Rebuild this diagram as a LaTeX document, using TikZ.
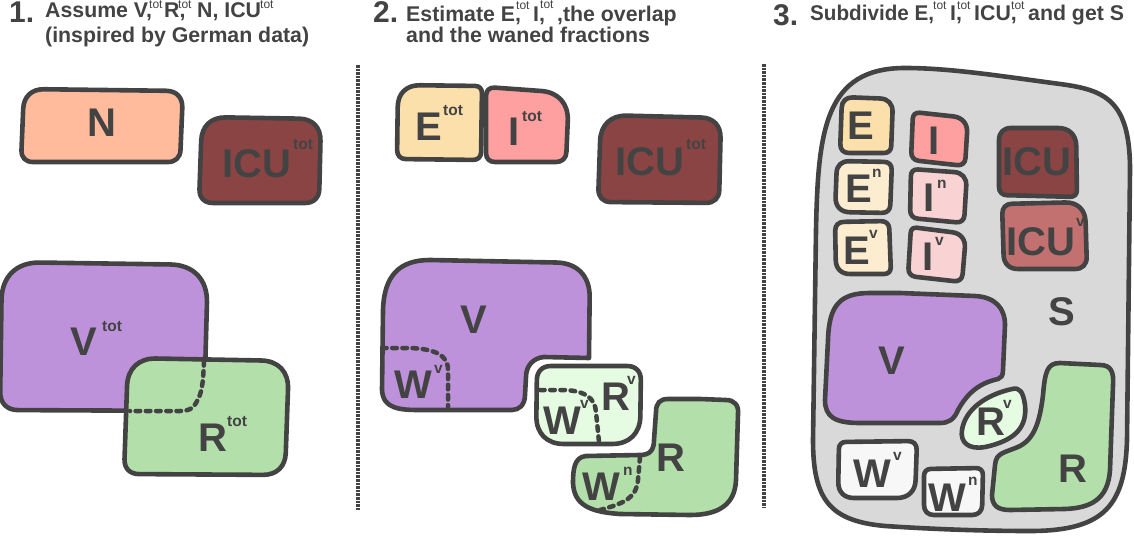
\documentclass[tikz,border=0pt]{standalone}
\usepackage{fontspec}
\setmainfont{Liberation Sans}
\usetikzlibrary{calc}
\definecolor{ink}{HTML}{434343}
\definecolor{cN}{HTML}{FFBB9C}
\definecolor{cICU}{HTML}{8B4444}
\definecolor{cICUv}{HTML}{C27070}
\definecolor{cV}{HTML}{BD92DA}
\definecolor{cR}{HTML}{B3DFAB}
\definecolor{cRv}{HTML}{E6FCE2}
\definecolor{cE}{HTML}{FBE0AC}
\definecolor{cEn}{HTML}{FCEDD0}
\definecolor{cI}{HTML}{FFA0A0}
\definecolor{cIn}{HTML}{F9D3D3}
\definecolor{cS}{HTML}{D9D9D9}
\definecolor{cW}{HTML}{F7F7F7}
\tikzset{
  blob/.style={draw=ink,line width=4.6pt,line join=round},
  dashline/.style={draw=ink,line width=4.5pt,dash pattern=on 4.6pt off 5.6pt,line cap=round},
  sepline/.style={draw=ink,line width=3.6pt,dash pattern=on 2.6pt off 1pt},
  big/.style={anchor=base,inner sep=0pt,text=ink,font=\fontsize{40}{40}\selectfont\bfseries},
  sup/.style={anchor=base west,inner sep=0pt,text=ink,font=\fontsize{15.5}{17}\selectfont\bfseries},
  head/.style={anchor=base west,inner sep=0pt,text=ink,font=\fontsize{21.3}{22}\selectfont\bfseries},
  htot/.style={anchor=base west,inner sep=0pt,text=ink,font=\fontsize{12}{12}\selectfont},
  num/.style={anchor=base west,inner sep=0pt,text=ink,font=\fontsize{30}{30}\selectfont\bfseries},
}
% corner: previous point, point, next point, radius
\newcommand\crn[4]{-- ($(#2)!#4pt!(#1)$) .. controls ($(#2)!#4*0.38pt!(#1)$) and ($(#2)!#4*0.38pt!(#3)$) .. ($(#2)!#4pt!(#3)$) }
% four-cornered blob
\newcommand\qb[9]{\path[blob,fill=#1] ($(#8)!.5!(#2)$) \crn{#8}{#2}{#4}{#3} \crn{#2}{#4}{#6}{#5} \crn{#4}{#6}{#8}{#7} \crn{#6}{#8}{#2}{#9} -- cycle;}
\begin{document}
\begin{tikzpicture}[x=1pt,y=-1pt]
\useasboundingbox (0,0) rectangle (1134,537);
% separators
\coordinate (s1a) at (358,65); \coordinate (s1b) at (358,510);
\coordinate (s2a) at (764,64); \coordinate (s2b) at (764,508);
\draw[sepline] (s1a) -- (s1b);
\draw[sepline] (s2a) -- (s2b);
% ---- panel 1 headers
\node[num] (h1n) at (9,23) {1.};
\node[head] (h1a) at (45,18) {Assume V,};
\node[htot] (h1at) at (149,9) {tot};
\node[head] (h1b) at (164,18) {R,};
\node[htot] (h1bt) at (178,9) {tot};
\node[head] (h1c) at (197,18) {N, ICU};
\node[htot] (h1ct) at (260,9) {tot};
\node[head] (h1d) at (45,43) {(inspired by German data)};
% ---- panel 1 shapes
\qb{cN}{24,89}{20}{183,91}{17}{180,162}{12}{21,162}{12}
\node[big] (tN) at (102,137) {N};
\qb{cICU}{202,117}{24}{321,119}{22}{319,203}{14}{199,203}{14}
\node[big] (tICU1) at (257,178) {ICU};
\node[sup] (sICU1) at (293,150) {tot};
\qb{cV}{2,262}{38}{208,265}{38}{204,411}{14}{0,410}{18}
\node[big] (tV1) at (84,355) {V};
\node[sup] (sV1) at (102,331) {tot};
\qb{cR}{128,358}{28}{289,361}{28}{285,475}{22}{124,474}{15}
\node[big] (tR1) at (213,451) {R};
\node[sup] (sR1) at (227,426) {tot};
\draw[dashline] (204,361) .. controls (203,385) and (202,393) .. (196,403) .. controls (193,409) and (188,411) .. (180,411) -- (130,411);
% ---- panel 2 headers
\node[num] (h2n) at (373,23) {2.};
\node[head] (h2a) at (406,22) {Estimate E,};
\node[htot] (h2at) at (516,10) {tot};
\node[head] (h2b) at (533,22) {I,};
\node[htot] (h2bt) at (540,9) {tot};
\node[head] (h2c) at (557,22) {,the overlap};
\node[head] (h2d) at (406,43) {and the waned fractions};
% ---- panel 2 shapes
\qb{cE}{398,85}{22}{482,86}{7}{481,160}{8}{397,159}{9}
\node[big] (tE2) at (429,141) {E};
\node[sup] (sE2) at (443,116) {tot};
\qb{cI}{486,87}{9}{569,93}{28}{566,162}{10}{486,162}{9}
\node[big] (tI2) at (514,146) {I};
\node[sup] (sI2) at (522,122) {tot};
\qb{cICU}{601,115}{26}{721,118}{20}{719,203}{13}{598,202}{13}
\node[big] (tICU2) at (650,176) {ICU};
\node[sup] (sICU2) at (686,150) {tot};
% V with notch
\path[blob,fill=cV] (480,261) \crn{383,260}{590,263}{589,358}{34}
  -- (589,358) -- (544,357) .. controls (533,358) and (526,366) .. (526,377)
  -- (525,395) .. controls (525,405) and (519,410) .. (512,410) -- (420,410)
  .. controls (400,410) and (383,409) .. (382,390) -- (383,310) .. controls (384,275) and (400,260) .. (430,260) -- cycle;
\node[big] (tV2) at (474,333) {V};
\node[big] (tW2) at (413,398) {W};
\node[sup] (sW2) at (434,373) {v};
\draw[dashline] (382,348) -- (410,348) .. controls (435,349) and (448,355) .. (448,370) -- (448,407);
% Rv
\qb{cRv}{537,366}{14}{641,366}{14}{640,444}{28}{536,444}{28}
\node[big] (tRv2) at (616,410) {R};
\node[sup] (sRv2) at (627,384) {v};
\node[big] (tWv2) at (562,434) {W};
\node[sup] (sWv2) at (580,408) {v};
\draw[dashline] (540,390) -- (565,390) .. controls (585,391) and (595,398) .. (596,412) -- (599,442);
% R
\path[blob,fill=cR] (700,399) -- (726,400) .. controls (734,400) and (739,405) .. (738,414)
  -- (736,480) .. controls (735,505) and (718,515) .. (690,515) -- (620,514)
  .. controls (590,512) and (574,505) .. (573,483) .. controls (573,470) and (574,457) .. (586,456)
  -- (640,455) .. controls (650,455) and (654,450) .. (654,440) -- (656,412) .. controls (656,403) and (660,399) .. (668,399) -- cycle;
\node[big] (tR2) at (671,471) {R};
\node[big] (tWn2) at (601,500) {W};
\node[sup] (sWn2) at (623,475) {n};
\draw[dashline] (640,457) -- (638,480) .. controls (636,498) and (625,503) .. (600,510);
% ---- panel 3 headers
\node[num] (h3n) at (773,26) {3.};
\node[head,xscale=.97] (h3a) at (810,21) {Subdivide E,};
\node[htot] (h3at) at (933,10) {tot};
\node[head] (h3b) at (950,21) {I,};
\node[htot] (h3bt) at (957,10) {tot};
\node[head] (h3c) at (974,21) {ICU,};
\node[htot] (h3ct) at (1011,10) {tot};
\node[head] (h3d) at (1028,21) {and get S};
% ---- panel 3 shapes
\path[blob,fill=cS] (813,440) -- (816,230) .. controls (818,130) and (825,68) .. (905,68)
  .. controls (950,68) and (1000,76) .. (1060,84) .. controls (1105,90) and (1130,100) .. (1130,170)
  -- (1127,440) .. controls (1125,505) and (1105,531) .. (1030,531)
  .. controls (980,531) and (930,529) .. (885,526) .. controls (830,521) and (813,500) .. (813,440) -- cycle;
\qb{cE}{842,97}{11}{893,99}{13}{891,153}{7}{840,153}{9}
\node[big] (tE3) at (861,140) {E};
\qb{cEn}{837,161}{12}{892,162}{8}{890,213}{8}{835,212}{15}
\node[big] (tEn3) at (859,203) {E};
\node[sup] (sEn3) at (872,178) {n};
\qb{cEn}{835,222}{9}{889,221}{8}{891,274}{7}{836,274}{14}
\node[big] (tEv3) at (857,265) {E};
\node[sup] (sEv3) at (869,239) {v};
\qb{cI}{913,112}{7}{968,118}{15}{965,166}{8}{911,160}{8}
\node[big] (tI3) at (934,155) {I};
\qb{cIn}{911,169}{7}{967,173}{13}{964,223}{8}{910,218}{8}
\node[big] (tIn3) at (929,212) {I};
\node[sup] (sIn3) at (937,189) {n};
\qb{cIn}{911,227}{6}{966,234}{14}{962,282}{8}{908,276}{8}
\node[big] (tIv3) at (928,270) {I};
\node[sup] (sIv3) at (935,245) {v};
\qb{cICU}{999,128}{12}{1076,128}{18}{1077,197}{7}{999,195}{8}
\node[big] (tICU3) at (1037,176) {ICU};
\qb{cICUv}{1002,204}{10}{1085,202}{20}{1087,269}{12}{1004,269}{14}
\node[big] (tICUv3) at (1041,255) {ICU};
\node[sup] (sICUv3) at (1076,226) {v};
\node[big] (tS3) at (1062,325) {S};
% V
\path[blob,fill=cV] (900,293) -- (975,296) .. controls (995,297) and (1005,308) .. (1005,325)
  -- (1003,370) .. controls (1003,376) and (1001,378) .. (998,379)
  .. controls (980,383) and (968,392) .. (958,410) .. controls (954,420) and (948,423) .. (940,423)
  -- (860,423) .. controls (835,423) and (825,417) .. (825,400)
  -- (828,340) .. controls (829,305) and (840,293) .. (870,293) -- cycle;
\node[big] (tV3) at (892,374) {V};
% Rv
\path[blob,fill=cRv] (1012,389) .. controls (1020,387) and (1023,392) .. (1025,405)
  .. controls (1027,425) and (1018,440) .. (985,447) .. controls (968,450) and (960,442) .. (962,430)
  .. controls (965,410) and (985,395) .. (1012,389) -- cycle;
\node[big] (tRv3) at (991,435) {R};
\node[sup] (sRv3) at (1003,408) {v};
% R
\path[blob,fill=cR] (1060,363) -- (1100,365) .. controls (1111,365) and (1114,372) .. (1113,385)
  -- (1110,470) .. controls (1108,500) and (1090,508) .. (1065,509)
  -- (1010,510) .. controls (997,510) and (992,505) .. (992,495)
  -- (995,465) .. controls (996,452) and (1005,453) .. (1020,446)
  .. controls (1035,438) and (1040,420) .. (1043,395) .. controls (1045,372) and (1047,363) .. (1060,363) -- cycle;
\node[big] (tR3) at (1073,482) {R};
% W
\qb{cW}{839,442}{7}{917,441}{9}{915,498}{18}{838,498}{16}
\node[big] (tWv3) at (872,487) {W};
\node[sup] (sWv3) at (893,460) {v};
\qb{cW}{924,469}{7}{983,468}{7}{982,515}{10}{924,515}{10}
\node[big] (tWn3) at (947,511) {W};
\node[sup] (sWn3) at (968,485) {n};
\end{tikzpicture}
\end{document}
